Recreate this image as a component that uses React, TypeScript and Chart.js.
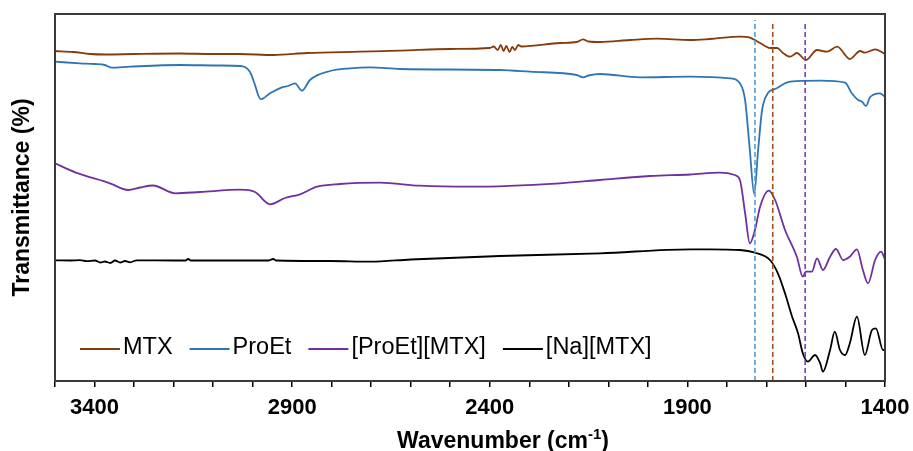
import React, { useEffect, useRef } from 'react';
import { Chart, registerables } from 'chart.js';

Chart.register(...registerables);

const FONT = '"Liberation Sans", Arial, Helvetica, sans-serif';

// ---- data (wavenumber in cm-1, transmittance in arbitrary offset units) ----
const mtxWn = [3500, 3454, 3411, 3370, 3300, 3184, 3100, 3032, 2948, 2862, 2728, 2627, 2501, 2400, 2390, 2380, 2372, 2365, 2358, 2350, 2343, 2336, 2328, 2320, 2222, 2180, 2164, 2150, 2121, 2045, 1977, 1893, 1843, 1767, 1742, 1716, 1691, 1673, 1658, 1640, 1623, 1600, 1572, 1547, 1521, 1489, 1463, 1451, 1425, 1400];
const mtxT = [330, 329, 327, 326.5, 327, 327.5, 327, 327, 326, 328, 329.3, 330.3, 332, 333, 334.5, 331, 336, 330, 335, 329, 334, 331, 336, 334.5, 338, 339, 341.7, 339.5, 339, 341, 342.3, 341, 342, 344.3, 343.3, 338, 333, 333, 328, 324.3, 328, 321, 331, 329.3, 334.3, 322, 330, 328.3, 331.7, 327];

const proEtWn = [3500, 3437, 3399, 3374, 3356, 3310, 3184, 3083, 3032, 3007, 2994, 2986, 2979, 2956, 2926, 2910, 2893, 2875, 2855, 2804, 2754, 2703, 2627, 2374, 2298, 2180, 2164, 2150, 2121, 2020, 1893, 1792, 1767, 1754, 1742, 1731, 1721, 1711, 1696, 1678, 1640, 1564, 1501, 1484, 1468, 1458, 1448, 1438, 1413, 1400];
const proEtT = [319.3, 317.7, 317, 316, 313.3, 314.3, 316, 315.5, 315, 309.3, 296, 286, 281.7, 287.7, 293.7, 295, 297.7, 290.3, 301, 310, 312.7, 313.7, 312, 311, 309.3, 306, 303.7, 305.5, 307, 303.7, 304.3, 302.7, 297.7, 281, 231, 187, 231, 271, 288, 292, 299.3, 300.3, 298.3, 287.7, 281, 279.3, 275, 283.7, 287.7, 284.3];

const ionicWn = [3500, 3449, 3361, 3315, 3285, 3252, 3196, 3133, 3032, 2994, 2956, 2918, 2880, 2837, 2779, 2678, 2577, 2450, 2222, 2121, 1995, 1893, 1818, 1780, 1767, 1754, 1742, 1729, 1716, 1694, 1678, 1653, 1623, 1608, 1600, 1585, 1572, 1557, 1539, 1524, 1506, 1489, 1471, 1456, 1443, 1425, 1410, 1400];
const ionicT = [217.7, 208.7, 197.7, 191, 193.5, 195.5, 187.7, 189, 191.3, 189, 176.7, 183, 186.7, 194.3, 197, 198.3, 195.3, 194.3, 197.7, 201, 205, 206.5, 208.3, 206, 201, 168, 137.7, 151, 174.3, 190.3, 181, 151, 124.3, 104.3, 109.3, 109.3, 122.7, 111, 124.3, 132, 121, 124.3, 131.7, 111, 97.7, 121, 129.3, 121.7];

const naWn = [3500, 3460, 3437, 3420, 3399, 3385, 3374, 3360, 3348, 3335, 3323, 3310, 3293, 3200, 3170, 3163, 3156, 2960, 2948, 2940, 2804, 2703, 2600, 2374, 2121, 1893, 1843, 1767, 1729, 1691, 1671, 1653, 1635, 1620, 1608, 1595, 1577, 1564, 1557, 1539, 1527, 1514, 1501, 1489, 1471, 1451, 1433, 1423, 1405, 1400];
const naT = [120.7, 120.5, 120.8, 119.8, 120.5, 118.5, 119.5, 118, 120.5, 118.5, 120, 118.7, 120.7, 120.5, 120.5, 122, 120.5, 120.5, 122, 120.5, 120, 119.3, 121.5, 125, 127.7, 131.7, 131.7, 131, 128.3, 121, 107.7, 87.7, 64.3, 47.7, 27.7, 19.3, 26, 17.7, 9.3, 31, 49.3, 31, 26, 37.7, 64.3, 26, 51, 52.7, 31, 31];

const seriesLabels = ['MTX', 'ProEt', '[ProEt][MTX]', '[Na][MTX]'];
const markerWn = [1729, 1684, 1602];
const markerTop = [361, 359, 358];
const xTickLabels = [3400, 2900, 2400, 1900, 1400];
const xMin = 1400;
const xMax = 3500;
const xMinorStep = 100;
const yMin = 0;
const yMax = 367;

const seriesColors = ['#843C0C', '#2E75B6', '#7030A0', '#000000'];
const markerColors = ['#5B9BD5', '#A0501E', '#7A3CB8'];

const toPoints = (xs: number[], ys: number[]) => xs.map((x, i) => ({ x, y: ys[i] }));

const plotBox = {
  id: 'plotBox',
  afterDatasetsDraw(chart: any) {
    const { ctx, chartArea: a } = chart;
    ctx.save();
    ctx.strokeStyle = '#3a3a3a';
    ctx.lineWidth = 2;
    ctx.strokeRect(a.left, a.top, a.right - a.left, a.bottom - a.top);
    ctx.restore();
  },
};

const innerLegend = {
  id: 'innerLegend',
  afterDraw(chart: any) {
    const { ctx } = chart;
    ctx.save();
    ctx.font = `23.5px ${FONT}`;
    ctx.textBaseline = 'middle';
    ctx.textAlign = 'left';
    let x = 80;
    const y = 349;
    chart.data.datasets.forEach((ds: any) => {
      if (ds.isMarker) return;
      ctx.strokeStyle = ds.borderColor;
      ctx.lineWidth = 2;
      ctx.beginPath();
      ctx.moveTo(x, y);
      ctx.lineTo(x + 40, y);
      ctx.stroke();
      x += 43;
      ctx.fillStyle = '#000';
      ctx.fillText(ds.label, x, y - 1);
      x += ctx.measureText(ds.label).width + 17;
    });
    ctx.restore();
  },
};

const xTitle = {
  id: 'xTitle',
  afterDraw(chart: any) {
    const { ctx } = chart;
    ctx.save();
    ctx.fillStyle = '#000';
    ctx.textBaseline = 'alphabetic';
    ctx.textAlign = 'left';
    const main = 'Wavenumber (cm';
    const sup = '-1';
    const close = ')';
    const big = `bold 23px ${FONT}`;
    const small = `bold 15px ${FONT}`;
    ctx.font = big;
    const w1 = ctx.measureText(main).width;
    const w3 = ctx.measureText(close).width;
    ctx.font = small;
    const w2 = ctx.measureText(sup).width;
    const total = w1 + w2 + w3;
    const cx = 503;
    const base = 448;
    let x = cx - total / 2;
    ctx.font = big;
    ctx.fillText(main, x, base);
    x += w1;
    ctx.font = small;
    ctx.fillText(sup, x, base - 9);
    x += w2;
    ctx.font = big;
    ctx.fillText(close, x, base);
    ctx.restore();
  },
};

export default function App() {
  const ref = useRef<HTMLCanvasElement | null>(null);

  useEffect(() => {
    document.body.style.margin = '0';
    const canvas = ref.current;
    if (!canvas) return;

    const curves = [
      [mtxWn, mtxT],
      [proEtWn, proEtT],
      [ionicWn, ionicT],
      [naWn, naT],
    ].map(([xs, ys], i) => ({
      label: seriesLabels[i],
      data: toPoints(xs as number[], ys as number[]),
      borderColor: seriesColors[i],
      backgroundColor: seriesColors[i],
      borderWidth: 1.8,
      pointRadius: 0,
      cubicInterpolationMode: 'monotone' as const,
      order: 2,
    }));

    const markers = markerWn.map((wn, i) => ({
      label: `marker${i}`,
      isMarker: true,
      data: [
        { x: wn, y: yMin },
        { x: wn, y: markerTop[i] },
      ],
      borderColor: markerColors[i],
      borderWidth: 1.6,
      borderDash: [5, 3],
      pointRadius: 0,
      order: 1,
    }));

    const chart = new Chart(canvas, {
      type: 'line',
      data: { datasets: [...curves, ...markers] as any },
      options: {
        animation: false,
        responsive: false,
        devicePixelRatio: 1,
        layout: { padding: { top: 14, right: 28, left: 0, bottom: 0 } },
        plugins: {
          legend: { display: false },
          tooltip: { enabled: false },
        },
        scales: {
          x: {
            type: 'linear',
            reverse: true,
            min: xMin,
            max: xMax,
            afterBuildTicks: (axis: any) => {
              const t = [];
              for (let v = xMin; v <= xMax; v += xMinorStep) t.push({ value: v });
              axis.ticks = t;
            },
            afterFit: (axis: any) => {
              axis.height = 70;
            },
            border: { display: false },
            grid: {
              display: true,
              drawOnChartArea: false,
              drawTicks: true,
              tickLength: 6,
              color: '#000',
              lineWidth: 1.5,
            },
            ticks: {
              autoSkip: false,
              maxRotation: 0,
              minRotation: 0,
              padding: 8,
              color: '#000',
              font: { family: FONT, size: 22, weight: 'bold' },
              callback: (v: any) => (xTickLabels.includes(Number(v)) ? String(v) : ''),
            },
            title: { display: false },
          },
          y: {
            type: 'linear',
            min: yMin,
            max: yMax,
            afterFit: (axis: any) => {
              axis.width = 55;
            },
            border: { display: false },
            grid: { display: false },
            ticks: { display: false },
            title: {
              display: true,
              text: 'Transmittance (%)',
              color: '#000',
              font: { family: FONT, size: 23, weight: 'bold' },
              padding: { top: 9, bottom: 0 },
            },
          },
        },
      } as any,
      plugins: [plotBox, innerLegend, xTitle],
    });

    return () => chart.destroy();
  }, []);

  return (
    <div style={{ width: 913, height: 451 }}>
      <canvas ref={ref} width={913} height={451} style={{ display: 'block' }} />
    </div>
  );
}
